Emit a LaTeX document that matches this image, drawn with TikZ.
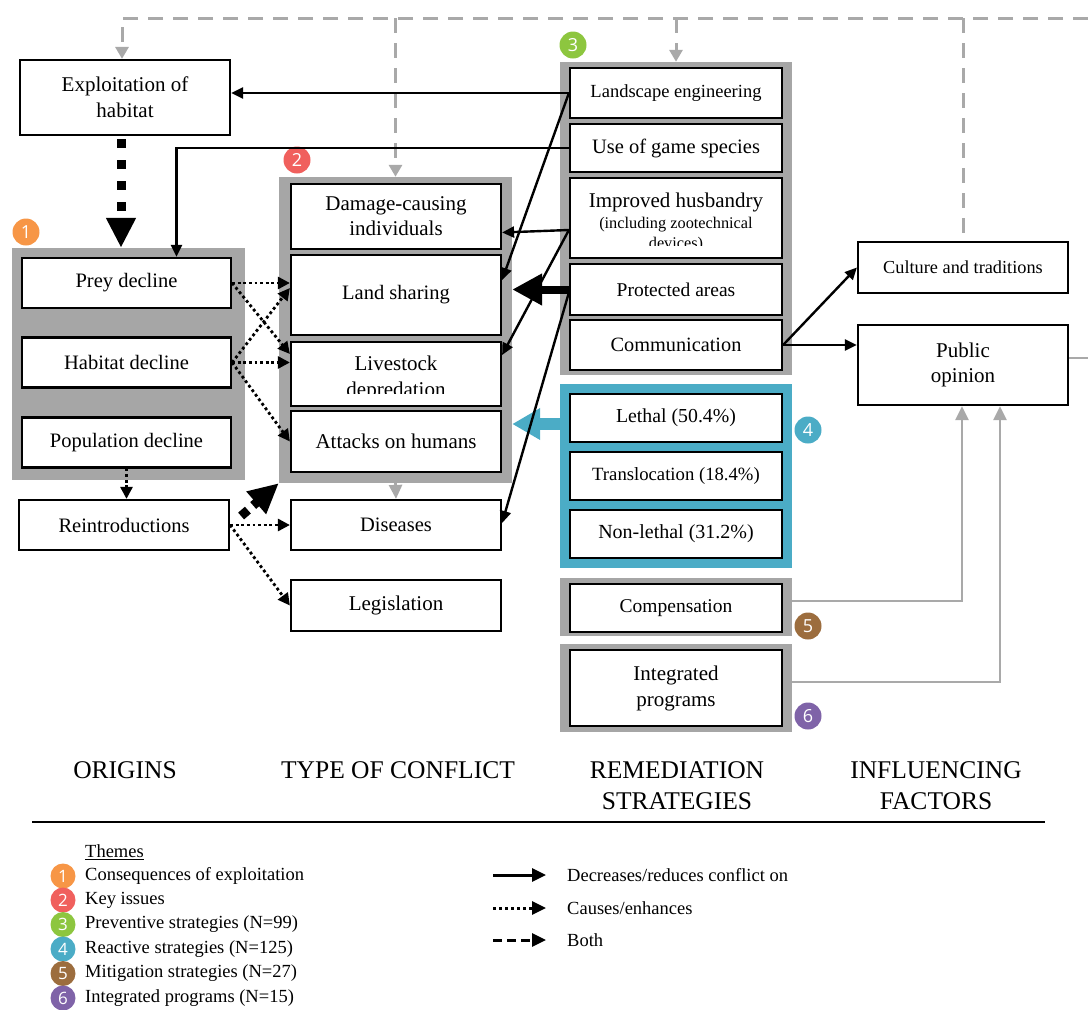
\documentclass[tikz,border=0pt]{standalone}
\usepackage{fontspec}
\setmainfont{Liberation Serif}
\newfontfamily\numfont{Open Sans}
\usetikzlibrary{arrows.meta,calc}
\definecolor{gfr}{HTML}{A6A6A6}
\definecolor{bfr}{HTML}{4BACC6}
\definecolor{lgray}{HTML}{A9A9A9}
\definecolor{cone}{HTML}{F79646}
\definecolor{ctwo}{HTML}{F0605D}
\definecolor{cthree}{HTML}{8DC63F}
\definecolor{cfour}{HTML}{4BACC6}
\definecolor{cfive}{HTML}{9C6D3E}
\definecolor{csix}{HTML}{7F63A8}
\begin{document}
\begin{tikzpicture}[x=1pt,y=-1pt,
  box/.style={draw=black, line width=2.2pt, fill=white, align=center, inner sep=0pt},
  frame/.style={fill=gfr, inner sep=0pt},
  sol/.style={line width=2.4pt, -{Triangle[width=11pt,length=12pt]}},
  dotl/.style={line width=2.8pt, dash pattern=on 2.8pt off 2.8pt, -{Triangle[width=12pt,length=12pt]}},
  thickdot/.style={line width=9pt, dash pattern=on 9pt off 12pt, -{Triangle[width=28pt,length=30pt]}},
  thicksol/.style={line width=8pt, -{Triangle[width=30pt,length=30pt]}},
  bluearr/.style={draw=bfr, line width=12pt, -{Triangle[width=30pt,length=28pt]}},
  grayarr/.style={draw=lgray, line width=2.6pt, -{Triangle[width=13pt,length=14pt]}},
  grayline/.style={draw=lgray, line width=2.6pt},
  dashg/.style={draw=lgray, line width=3pt, dash pattern=on 15pt off 10pt},
  dashgarr/.style={dashg, -{Triangle[width=13pt,length=12pt]}},
  numc/.style={circle, fill=#1, text=white, minimum size=27pt, inner sep=0pt, font=\numfont\fontsize{18}{18}\selectfont},
  lnum/.style={numc=#1, minimum size=25pt, font=\numfont\fontsize{17}{17}\selectfont},
  head/.style={align=center, font=\fontsize{25.5}{31}\selectfont},
  leg/.style={anchor=west, inner sep=0pt, font=\fontsize{18.5}{22}\selectfont}
]
\useasboundingbox (0,0) rectangle (1088,1010);

% group frames
\node[frame, minimum width=233pt, minimum height=232pt] (g1) at (128.5,364) {};
\node[frame, minimum width=233pt, minimum height=306pt] (g2) at (395.5,330) {};
\node[frame, minimum width=232pt, minimum height=313pt] (g3) at (676,218.5) {};
\node[fill=bfr, inner sep=0pt, minimum width=232pt, minimum height=184pt] (g4) at (676,476) {};
\node[frame, minimum width=232pt, minimum height=58pt] (g5) at (676,607) {};
\node[frame, minimum width=232pt, minimum height=88pt] (g6) at (676,688) {};

% origins
\node[box, minimum width=210pt, minimum height=75pt, font=\fontsize{21}{26}\selectfont] (exp) at (125,97.5) {Exploitation of\\habitat};
\node[box, minimum width=209pt, minimum height=50pt, font=\fontsize{20.5}{25}\selectfont] (prey) at (126.5,283) {Prey decline};
\node[box, minimum width=209pt, minimum height=50pt, font=\fontsize{20.5}{25}\selectfont] (hab) at (126.5,362.5) {Habitat decline};
\node[box, minimum width=209pt, minimum height=50pt, font=\fontsize{20.5}{25}\selectfont] (pop) at (126.5,442.5) {Population decline};
\node[box, minimum width=210pt, minimum height=50pt, font=\fontsize{20.5}{25}\selectfont] (rein) at (124,525) {Reintroductions};

% type of conflict
\node[box, minimum width=210pt, minimum height=65pt, font=\fontsize{21}{25}\selectfont] (dmg) at (396,216.5) {Damage-causing\\individuals};
\node[box, minimum width=210pt, minimum height=80pt, font=\fontsize{20.5}{25}\selectfont] (ls) at (396,295) {Land sharing};
\node[box, minimum width=210pt, minimum height=64pt] (liv) at (396,374) {};
\begin{scope}
  \clip (292,343) rectangle (500,393);
  \node[anchor=base, inner sep=0pt, font=\fontsize{21}{25}\selectfont] (livA) at (396,370) {Livestock};
  \node[anchor=base, inner sep=0pt, font=\fontsize{21}{25}\selectfont] (livB) at (396,396) {depredation};
\end{scope}
\node[box, minimum width=210pt, minimum height=61pt, font=\fontsize{21}{25}\selectfont] (att) at (396,441.5) {Attacks on humans};
\node[box, minimum width=210pt, minimum height=50pt, font=\fontsize{20.5}{25}\selectfont] (dis) at (396,525) {Diseases};
\node[box, minimum width=210pt, minimum height=51pt, font=\fontsize{21}{25}\selectfont] (leg) at (396,605.5) {Legislation};

% remediation strategies
\node[box, minimum width=212pt, minimum height=50pt, font=\fontsize{18.5}{22}\selectfont] (land) at (676,93) {Landscape engineering};
\node[box, minimum width=212pt, minimum height=48pt, font=\fontsize{20.5}{25}\selectfont] (game) at (676,148) {Use of game species};
\node[box, minimum width=212pt, minimum height=80pt] (impr) at (676,218) {};
\begin{scope}
  \clip (571,179) rectangle (781,245);
  \node[anchor=base, inner sep=0pt, font=\fontsize{21}{25}\selectfont] (imA) at (676,207) {Improved husbandry};
  \node[anchor=base, inner sep=0pt, font=\fontsize{16.3}{19}\selectfont] (imB) at (676,228) {(including zootechnical};
  \node[anchor=base, inner sep=0pt, font=\fontsize{16.3}{19}\selectfont] (imC) at (676,248) {devices)};
\end{scope}
\node[box, minimum width=212pt, minimum height=51pt, font=\fontsize{19.5}{24}\selectfont] (prot) at (676,289.5) {Protected areas};
\node[box, minimum width=212pt, minimum height=50pt, font=\fontsize{20.3}{24}\selectfont] (comm) at (676,345) {Communication};
\node[box, minimum width=212pt, minimum height=48pt, font=\fontsize{19.8}{24}\selectfont] (leth) at (676,418) {Lethal (50.4\%)};
\node[box, minimum width=212pt, minimum height=48pt, font=\fontsize{18.7}{24}\selectfont] (trans) at (676,476) {Translocation (18.4\%)};
\node[box, minimum width=212pt, minimum height=48pt, font=\fontsize{20}{24}\selectfont] (nonl) at (676,534) {Non-lethal (31.2\%)};
\node[box, minimum width=212pt, minimum height=48pt, font=\fontsize{19.5}{24}\selectfont] (comp) at (676,608) {Compensation};
\node[box, minimum width=212pt, minimum height=76pt, font=\fontsize{21}{26}\selectfont] (integ) at (676,688) {Integrated\\programs};

% influencing factors
\node[box, minimum width=210pt, minimum height=51pt, font=\fontsize{18.3}{22}\selectfont] (cult) at (963,267.5) {Culture and traditions};
\node[box, minimum width=210pt, minimum height=80pt, font=\fontsize{21}{25}\selectfont] (pub) at (963,365) {Public\\opinion};

% theme numbers
\node[numc=cone] (n1) at (26,232) {1};
\node[numc=ctwo] (n2) at (297,160) {2};
\node[numc=cthree] (n3) at (573,45) {3};
\node[numc=cfour] (n4) at (808,430) {4};
\node[numc=cfive] (n5) at (808,626) {5};
\node[numc=csix] (n6) at (808,716) {6};

% grey dashed feedback
\coordinate (tr) at (1088,18);
\coordinate (ex) at ($(exp.north)+(-3,0)$);
\draw[dashgarr] (tr) -| (ex);
\coordinate (d2) at (g2.north |- tr);
\draw[dashgarr] (d2) -- (g2.north);
\coordinate (d3) at (g3.north |- tr);
\draw[dashgarr] (d3) -- (g3.north);
\coordinate (d4) at (cult.north |- tr);
\draw[dashg] (d4) -- (cult.north);

% connectors
\draw[sol] (land.west) -- (land.west -| exp.east);
\draw[sol] (game.west) -| ([xshift=50pt]prey.north);
\coordinate (es) at ($(exp.south)+(-4,3)$);
\draw[thickdot] (es) -- (es |- g1.north);
\draw[dotl] (pop.south) -- (pop.south |- rein.north);

\draw[dotl] (prey.east) -- (ls.west |- prey.east);
\draw[dotl] (prey.east) -- ($(liv.west)+(0,-20)$);
\draw[dotl] (hab.east) -- ($(ls.west)+(0,-7)$);
\draw[dotl] (hab.east) -- (liv.west |- hab.east);
\draw[dotl] (hab.east) -- (att.west);
\draw[dotl] (rein.east) -- (dis.west |- rein.east);
\draw[dotl] (rein.east) -- (leg.west);
\coordinate (rs) at ($(rein.east)+(11,-9)$);
\draw[thickdot, dash pattern=on 9pt off 7pt] (rs) -- (g2.south west);
\draw[grayarr] (g2.south) -- (dis.north);

\coordinate (bl) at (560,424);
\draw[bluearr] (bl) -- (bl -| g2.east);
\coordinate (imS) at ($(impr.west)+(0,12)$);
\draw[sol] (imS) -- ($(dmg.east)+(0,16)$);
\draw[sol] (imS) -- ($(liv.east)+(0,-19)$);
\draw[sol] (land.west) -- ($(ls.east)+(0,-15)$);
\draw[thicksol] (prot.west) -- (prot.west -| g2.east);
\draw[sol] ($(prot.west)+(0,3)$) -- ($(dis.east)+(0,-2)$);

\draw[sol] (comm.east) -- (cult.west);
\draw[sol] (comm.east) -- (comm.east -| pub.west);

\coordinate (c5) at ($(g5.east)+(0,-6)$);
\coordinate (p5) at ($(pub.south)+(-1,0)$);
\draw[grayarr] (c5) -| (p5);
\coordinate (c6) at ($(g6.east)+(0,-6)$);
\coordinate (p6) at ($(pub.south)+(37,0)$);
\draw[grayarr] (c6) -| (p6);
\coordinate (pr) at (1088,358);
\draw[grayline] (pr -| pub.east) -- (pr);

% headings
\node[head] (h1) at (125,770) {ORIGINS};
\node[head] (h2) at (398,770) {TYPE OF CONFLICT};
\node[head] (h3) at (677,785.5) {REMEDIATION\\STRATEGIES};
\node[head] (h4) at (936,785.5) {INFLUENCING\\FACTORS};
\coordinate (l1) at (32,822);
\coordinate (l2) at (1045,822);
\draw[line width=1.5pt] (l1) -- (l2);

% legend
\node[leg] (th) at (85,852) {\underline{Themes}};
\node[lnum=cone] (k1) at (63,876) {1};
\node[lnum=ctwo] (k2) at (63,900) {2};
\node[lnum=cthree] (k3) at (63,924.5) {3};
\node[lnum=cfour] (k4) at (63,949) {4};
\node[lnum=cfive] (k5) at (63,973.5) {5};
\node[lnum=csix] (k6) at (63,998) {6};
\node[leg] (t1) at (85,876) {Consequences of exploitation};
\node[leg] (t2) at (85,900) {Key issues};
\node[leg] (t3) at (85,924.5) {Preventive strategies (N=99)};
\node[leg] (t4) at (85,949) {Reactive strategies (N=125)};
\node[leg] (t5) at (85,973.5) {Mitigation strategies (N=27)};
\node[leg] (t6) at (85,998) {Integrated programs (N=15)};

\coordinate (a1) at (493,875); \coordinate (b1) at (546,875);
\coordinate (a2) at (493,908); \coordinate (b2) at (546,908);
\coordinate (a3) at (493,940); \coordinate (b3) at (546,940);
\draw[line width=3pt, -{Triangle[width=13pt,length=14pt]}] (a1) -- (b1);
\draw[line width=3pt, dash pattern=on 3pt off 3pt, -{Triangle[width=13pt,length=14pt]}] (a2) -- (b2);
\draw[line width=3pt, dash pattern=on 9pt off 5pt, -{Triangle[width=13pt,length=14pt]}] (a3) -- (b3);
\node[leg] (e1) at (567,875) {Decreases/reduces conflict on};
\node[leg] (e2) at (567,908) {Causes/enhances};
\node[leg] (e3) at (567,940) {Both};
\end{tikzpicture}
\end{document}
